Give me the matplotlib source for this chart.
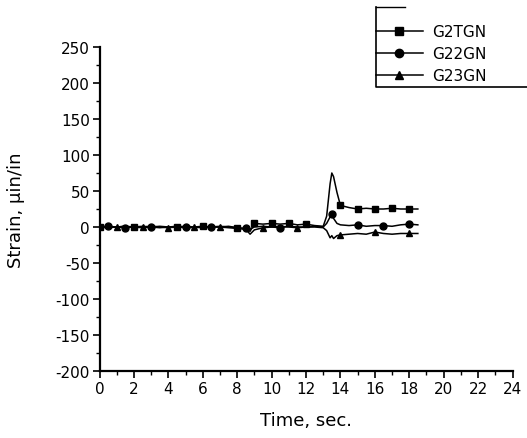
import matplotlib
matplotlib.use("Agg")
import matplotlib.pyplot as plt
from matplotlib.ticker import MultipleLocator
from matplotlib.lines import Line2D

plt.rcParams['font.family'] = ['DejaVu Sans']
plt.rcParams['axes.unicode_minus'] = False

time = [0, 0.5, 1, 1.5, 2, 2.5, 3, 3.5, 4, 4.5, 5, 5.5, 6, 6.5, 7, 7.5, 8, 8.5, 8.75,
        9, 9.5, 10, 10.5, 11, 11.5, 12, 12.5, 13, 13.2, 13.4, 13.5, 13.6, 13.8, 14,
        14.5, 15, 15.5, 16, 16.5, 17, 17.5, 18, 18.5]

g2tgn = [0, -1, 0, 1, 0, -1, 0, 1, 0, 0, -1, 0, 1, 0, 0, -1, -2, -3, -6,
         5, 4, 5, 4, 5, 3, 4, 2, 1, 15, 60, 75, 70, 48, 30,
         27, 25, 26, 25, 25, 26, 25, 25, 25]
g22gn = [0, 1, 0, -1, 0, 1, 0, -1, 0, 1, 0, -1, 0, 0, 1, 0, -1, -2, -3,
         0, 1, 0, -1, 1, 0, 0, 1, 0, 5, 14, 18, 12, 5, 3,
         2, 3, 1, 2, 2, 1, 3, 4, 3]
g23gn = [-1, 0, 0, 1, -1, 0, 1, 0, -1, 0, 1, 0, -1, 0, 0, 1, -1, -3, -10,
         -4, -1, 0, 1, 0, -1, 0, 0, -1, -5, -15, -12, -16, -12, -11,
         -10, -9, -10, -7, -9, -10, -9, -9, -9]

marks_g2tgn = [0, 2, 4.5, 6, 8, 9, 10, 11, 12, 14, 15, 16, 17, 18]
marks_g22gn = [0.5, 1.5, 3, 5, 6.5, 8.5, 10.5, 13.5, 15, 16.5, 18]
marks_g23gn = [1, 2.5, 4, 5.5, 7, 9.5, 11.5, 14, 16, 18]

series = [
    ("G2TGN", g2tgn, marks_g2tgn, "s"),
    ("G22GN", g22gn, marks_g22gn, "o"),
    ("G23GN", g23gn, marks_g23gn, "^"),
]

W, H = 527, 439
fig = plt.figure(figsize=(W / 100, H / 100), dpi=100)
ax = fig.add_axes([99.5 / W, 1 - 372 / H, (512.5 - 99.5) / W, (372 - 48) / H])

handles = []
for name, vals, marks, mk in series:
    idx = [time.index(m) for m in marks]
    h, = ax.plot(time, vals, color="black", lw=1.1, marker=mk, markersize=5,
                 markevery=idx, label=name)
    handles.append(h)

ax.set_xlim(0, 24)
ax.set_ylim(-200, 250)
ax.xaxis.set_major_locator(MultipleLocator(2))
ax.xaxis.set_minor_locator(MultipleLocator(1))
ax.yaxis.set_major_locator(MultipleLocator(50))
ax.yaxis.set_minor_locator(MultipleLocator(25))
for s in ("top", "right"):
    ax.spines[s].set_visible(False)
for s in ("left", "bottom"):
    ax.spines[s].set_linewidth(1.6)
ax.tick_params(which="major", direction="out", length=5, width=1.2, labelsize=11, pad=2)
ax.tick_params(which="minor", direction="out", length=3, width=1.0)

ax.set_xlabel("Time, sec.", fontsize=13, labelpad=11)
ax.set_ylabel("Strain, \u03bcin/in", fontsize=13, labelpad=22)

# legend (entries) without frame, frame drawn separately
leg_handles = [Line2D([0], [0], color="black", lw=1.1, marker=mk, markersize=6)
               for _, _, _, mk in series]
leg = fig.legend(leg_handles, [s[0] for s in series], loc="center left",
                 bbox_to_anchor=(376 / W, 1 - 54.5 / H), bbox_transform=fig.transFigure,
                 frameon=False, fontsize=11, handlelength=3.05, handletextpad=0.6,
                 borderpad=0, labelspacing=0.45, borderaxespad=0)

frame_x = [376 / W, 376 / W, 1.02]
frame_y = [1 - 8 / H, 1 - 88 / H, 1 - 88 / H]
fig.add_artist(Line2D(frame_x, frame_y, transform=fig.transFigure, color="black", lw=1.2))
fig.add_artist(Line2D([376 / W, 405 / W], [1 - 8 / H, 1 - 8 / H], transform=fig.transFigure,
                      color="black", lw=1.0))

fig.savefig("out.png", dpi=100)
